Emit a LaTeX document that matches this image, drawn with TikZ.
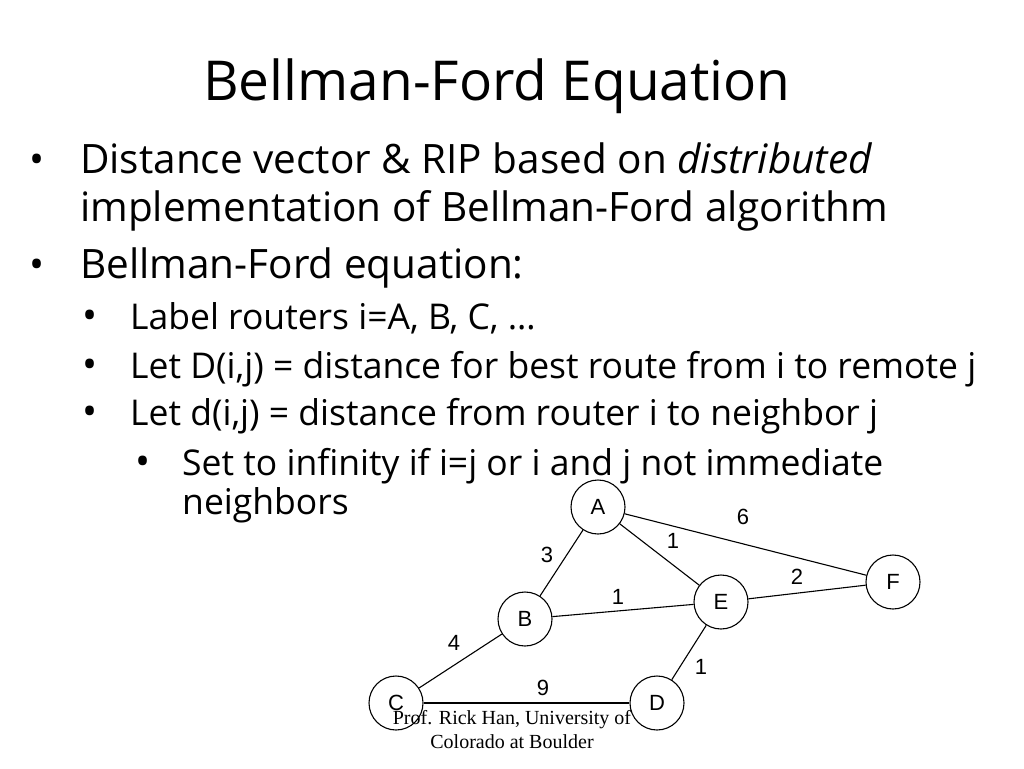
\documentclass[tikz,border=0pt]{standalone}
\usepackage{fontspec}
\setmainfont{Open Sans}
\newfontfamily\helvfont{Liberation Sans}
\newfontfamily\serffont{Liberation Serif}
\tikzset{
  router/.style={circle,draw,fill=white,line width=1.1pt,minimum size=54pt,inner sep=0pt,font=\helvfont\fontsize{22}{26}\selectfont},
  wt/.style={inner sep=0pt,font=\helvfont\fontsize{22}{26}\selectfont},
  lvlone/.style={anchor=base west,inner sep=0pt,font=\fontsize{40.5}{48}\selectfont},
  lvltwo/.style={anchor=base west,inner sep=0pt,font=\fontsize{35.5}{42}\selectfont},
  bul/.style={anchor=base,inner sep=0pt,font=\fontsize{40}{48}\selectfont},
}
\begin{document}
\begin{tikzpicture}[x=1pt,y=-1pt]
\useasboundingbox[fill=white] (0,0) rectangle (1024,768);
\node[anchor=base,inner sep=0pt,font=\fontsize{55}{66}\selectfont] (title) at (497,100) {Bellman-Ford Equation};

\node[bul] (b1) at (37,173) {•};
\node[lvlone] (t1) at (80,173) {Distance vector \& RIP based on \textit{distributed}};
\node[lvlone] (t2) at (80,221) {implementation of Bellman-Ford algorithm};
\node[bul] (b2) at (37,278) {•};
\node[lvlone] (t3) at (80,278) {Bellman-Ford equation:};
\node[bul] (b3) at (90,329) {•};
\node[lvltwo] (t4) at (130,329) {Label routers i=A, B, C, …};
\node[bul] (b4) at (90,378) {•};
\node[lvltwo] (t5) at (130,378) {Let D(i,j) = distance for best route from i to remote j};
\node[bul] (b5) at (90,425) {•};
\node[lvltwo] (t6) at (130,425) {Let d(i,j) = distance from router i to neighbor j};
\node[bul] (b6) at (143,475) {•};
\node[lvltwo] (t7) at (182,475) {Set to infinity if i=j or i and j not immediate};
\node[lvltwo] (t8) at (182,514) {neighbors};

\node[router] (vA) at (598,507) {A};
\node[router] (vB) at (525,619) {B};
\node[router] (vC) at (396,703) {C};
\node[router] (vD) at (657,703) {D};
\node[router] (vE) at (721,602) {E};
\node[router] (vF) at (893,582) {F};
\draw[line width=1.1pt] (vA) edge (vB);
\draw[line width=1.1pt] (vA) edge (vE);
\draw[line width=1.1pt] (vA) edge (vF);
\draw[line width=1.1pt] (vB) edge (vE);
\draw[line width=1.1pt] (vB) edge (vC);
\draw[line width=1.1pt] (vC) edge (vD);
\draw[line width=1.1pt] (vD) edge (vE);
\draw[line width=1.1pt] (vE) edge (vF);

\node[wt] (wAB) at (547,555) {3};
\node[wt] (wAE) at (673,541) {1};
\node[wt] (wAF) at (743,517) {6};
\node[wt] (wBE) at (618,597) {1};
\node[wt] (wEF) at (797,577) {2};
\node[wt] (wBC) at (454,643) {4};
\node[wt] (wCD) at (543,688) {9};
\node[wt] (wDE) at (701,667) {1};

\node[align=center,inner sep=0pt,font=\serffont\fontsize{20}{24}\selectfont] (foot) at (512,730) {Prof. Rick Han, University of\\Colorado at Boulder};
\end{tikzpicture}
\end{document}
